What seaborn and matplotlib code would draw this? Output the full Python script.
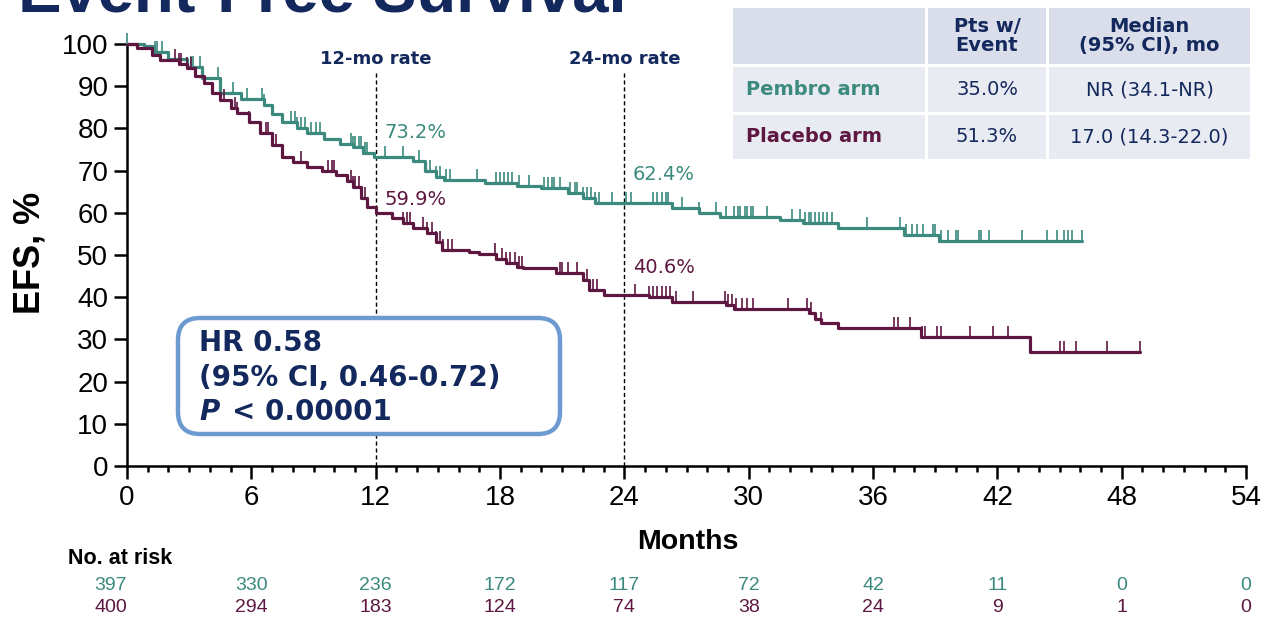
import numpy as np
import pandas as pd
import matplotlib
matplotlib.use("Agg")
import matplotlib.pyplot as plt
import seaborn as sns
from matplotlib.patches import FancyBboxPatch, Rectangle
from matplotlib.path import Path
from matplotlib.transforms import IdentityTransform, blended_transform_factory

# ---------------- data ----------------
arms = ["Pembro arm", "Placebo arm"]

pembro_t = [0, 0.8, 1.3, 2.0, 2.9, 3.6, 4.5, 5.5, 6.6, 7.0, 7.5, 8.2, 8.7, 9.5, 10.3,
            10.9, 11.4, 11.9, 13.8, 14.4, 14.9, 15.3, 17.3, 18.8, 20.0, 21.3, 22.0,
            22.6, 26.3, 27.6, 28.6, 31.5, 32.6, 34.3, 37.5, 39.2, 46.1]
pembro_s = [100, 99.5, 98.2, 96.5, 94.5, 92.0, 88.4, 87.0, 85.5, 83.5, 81.5, 80.0, 78.9,
            77.5, 76.3, 75.6, 74.2, 73.2, 72.3, 70.0, 68.5, 67.8, 67.1, 66.4, 65.9, 64.8,
            63.6, 62.4, 61.1, 60.0, 59.0, 58.3, 57.6, 56.4, 54.7, 53.2, 53.2]

placebo_t = [0, 0.5, 1.2, 1.6, 2.5, 2.9, 3.3, 3.7, 4.1, 4.5, 5.0, 5.3, 5.9, 6.4, 7.0, 7.5,
             8.0, 8.7, 9.4, 10.1, 10.6, 10.9, 11.3, 11.6, 12.0, 12.8, 13.3, 13.8, 14.5,
             14.9, 15.2, 16.5, 17.0, 17.8, 18.3, 18.8, 19.1, 20.7, 22.0, 22.3, 23.0, 25.2,
             26.3, 28.9, 29.3, 32.9, 33.2, 33.5, 34.3, 38.3, 43.6, 48.9]
placebo_s = [100, 99.0, 97.5, 96.2, 95.2, 94.3, 92.5, 90.8, 88.5, 86.7, 84.8, 83.6, 81.5,
             78.9, 76.0, 73.2, 72.0, 70.9, 69.8, 69.0, 67.5, 66.1, 63.5, 61.4, 59.9, 58.8,
             57.6, 56.5, 55.2, 53.0, 51.2, 50.6, 50.2, 49.0, 48.0, 47.2, 46.9, 45.7, 44.1,
             41.7, 40.6, 40.0, 38.9, 38.2, 37.2, 36.2, 34.8, 33.9, 32.7, 30.6, 27.0, 27.0]

pembro_censor = [0.0, 1.35, 1.45, 1.7, 3.1, 3.2, 3.5, 4.4, 5.1, 5.8, 6.5, 6.6, 7.9, 8.1, 8.2,
                 8.4, 8.6, 8.9, 9.1, 9.3, 10.8, 10.9, 11.0, 11.2, 11.3, 11.5, 11.6, 12.45,
                 13.3, 14.1, 14.4, 14.6, 14.9, 15.1, 15.4, 15.6, 16.9, 17.8, 18.0, 18.2,
                 18.4, 18.6, 18.9, 19.4, 20.1, 20.3, 20.5, 20.6, 20.9, 21.4, 21.6, 21.7,
                 22.0, 22.2, 22.4, 22.6, 22.8, 23.4, 24.1, 24.3, 25.4, 25.6, 25.8, 26.0,
                 26.1, 26.8, 27.6, 28.4, 28.9, 29.3, 29.5, 29.6, 29.8, 29.9, 30.1, 30.2,
                 30.9, 32.1, 32.5, 32.7, 32.9, 33.0, 33.2, 33.4, 33.6, 33.8, 34.0, 35.7,
                 37.3, 37.6, 37.9, 38.1, 38.4, 38.9, 39.0, 39.3, 39.6, 40.0, 40.1, 41.1,
                 41.2, 41.6, 43.2, 44.4, 44.9, 45.2, 45.4, 45.6, 46.1]
placebo_censor = [2.3, 2.5, 2.6, 2.9, 3.1, 4.7, 5.2, 5.3, 5.9, 6.7, 6.8, 7.0, 7.2, 7.5, 8.4,
                  9.7, 9.9, 10.0, 10.8, 10.9, 11.0, 11.2, 11.3, 11.5, 13.3, 13.5, 13.65,
                  14.3, 14.5, 14.7, 14.9, 15.1, 15.25, 15.5, 15.7, 17.75, 18.1, 18.3, 18.5,
                  18.7, 18.9, 19.05, 20.9, 21.0, 21.3, 21.7, 22.2, 22.5, 22.7, 24.5, 25.2,
                  25.4, 25.6, 25.8, 26.0, 26.2, 26.5, 27.3, 28.85, 29.0, 29.2, 29.4, 29.7,
                  29.9, 30.2, 31.9, 32.8, 33.0, 33.5, 37.0, 37.2, 37.8, 38.35, 38.5, 39.1,
                  39.3, 40.7, 41.8, 42.5, 45.0, 45.2, 45.8, 47.3, 48.9]

month_ticks = [0, 6, 12, 18, 24, 30, 36, 42, 48, 54]
risk_pembro = [397, 330, 236, 172, 117, 72, 42, 11, 0, 0]
risk_placebo = [400, 294, 183, 124, 74, 38, 24, 9, 1, 0]

rate_months = [12, 24]
rate_titles = ["12-mo rate", "24-mo rate"]
pembro_rates = [73.2, 62.4]
placebo_rates = [59.9, 40.6]

table_headers = ["", "Pts w/\nEvent", "Median\n(95% CI), mo"]
pts_with_event = ["35.0%", "51.3%"]
median_ci = ["NR (34.1-NR)", "17.0 (14.3-22.0)"]

hr_text = ["HR 0.58", "(95% CI, 0.46-0.72)", "< 0.00001"]

# ---------------- style ----------------
TEAL = "#3b8a7d"
MAROON = "#5d1741"
NAVY = "#13285c"
W, H = 1269, 620

sns.set_style("ticks")
plt.rcParams["font.family"] = ["Liberation Sans", "DejaVu Sans"]
plt.rcParams["text.color"] = "black"
WIDE = ["DejaVu Sans"]

fig = plt.figure(figsize=(W / 100, H / 100), dpi=100)
ax = fig.add_axes([127 / W, 1 - 466 / H, (1246 - 127) / W, (466 - 44) / H])


def fx(px):
    return px / W


def fy(py):
    return 1 - py / H


# curves
df = pd.concat([
    pd.DataFrame({"t": pembro_t, "s": pembro_s, "arm": arms[0]}),
    pd.DataFrame({"t": placebo_t, "s": placebo_s, "arm": arms[1]}),
])
sns.lineplot(data=df, x="t", y="s", hue="arm", palette=[TEAL, MAROON],
             estimator=None, sort=False, drawstyle="steps-post", legend=False,
             linewidth=2.3, ax=ax, clip_on=False, zorder=3)

tick_marker = Path([(0, 0), (0, 1)], [Path.MOVETO, Path.LINETO])


def surv_at(times, t_steps, s_steps):
    idx = np.searchsorted(np.asarray(t_steps), np.asarray(times), side="right") - 1
    return np.asarray(s_steps)[np.clip(idx, 0, len(s_steps) - 1)]


for cens, tt, ss, col in [(pembro_censor, pembro_t, pembro_s, TEAL),
                          (placebo_censor, placebo_t, placebo_s, MAROON)]:
    ax.plot(cens, surv_at(cens, tt, ss), linestyle="none", marker=tick_marker,
            markersize=16, markeredgewidth=1.2, color=col, clip_on=False, zorder=3)

tr = blended_transform_factory(ax.transData, fig.transFigure)

# reference lines
for m, title in zip(rate_months, rate_titles):
    ax.plot([m, m], [0, 93.4], color="black", linestyle=(0, (3, 2)), linewidth=1.0,
            zorder=1, clip_on=False)
    ax.text(m, fy(64), title, transform=tr, ha="center", va="baseline", fontsize=13,
            fontweight="bold", color=NAVY, family=WIDE)

# rate labels
for m, pr, qr, py1, py2 in zip(rate_months, pembro_rates, placebo_rates, [138, 180], [205, 273]):
    ax.text(m + 0.42, fy(py1), f"{pr:.1f}%", transform=tr, ha="left", va="baseline",
            fontsize=14, color=TEAL, family=WIDE)
    ax.text(m + 0.42, fy(py2), f"{qr:.1f}%", transform=tr, ha="left", va="baseline",
            fontsize=14, color=MAROON, family=WIDE)

# axes
ax.set_xlim(0, 54)
ax.set_ylim(0, 100)
ax.set_xticks(month_ticks)
ax.set_xticks(np.arange(0, 55, 1), minor=True)
ax.set_yticks(np.arange(0, 101, 10))
ax.tick_params(axis="both", which="major", labelsize=20, width=1.8, color="black",
               labelcolor="black", direction="out")
ax.tick_params(axis="x", which="major", length=9, pad=5)
ax.tick_params(axis="y", which="major", length=9.5, pad=4)
ax.tick_params(axis="x", which="minor", length=4.5, width=1.8, color="black")
for sp in ["top", "right"]:
    ax.spines[sp].set_visible(False)
for sp in ["left", "bottom"]:
    ax.spines[sp].set_linewidth(1.8)
    ax.spines[sp].set_color("black")
ax.set_xlabel("")
ax.set_ylabel("")
ax.set_facecolor("white")

fig.text(fx(30), fy(253), "EFS, %", rotation=90, ha="center", va="center",
         fontsize=26, fontweight="bold", color="black")
fig.text(fx(688), fy(542), "Months", ha="center", va="center", fontsize=20.5,
         fontweight="bold", color="black")

# number at risk
fig.text(fx(68), fy(559), "No. at risk", ha="left", va="center", fontsize=15.5,
         fontweight="bold", color="black")
for i, m in enumerate(month_ticks):
    ha = "right" if i == 0 else "center"
    ax.text(m, fy(585), str(risk_pembro[i]), transform=tr, ha=ha, va="center",
            fontsize=14, color=TEAL)
    ax.text(m, fy(607), str(risk_placebo[i]), transform=tr, ha=ha, va="center",
            fontsize=14, color=MAROON)

# HR box
box = FancyBboxPatch((178, H - 434), 382, 116,
                     boxstyle="round,pad=0,rounding_size=22",
                     transform=IdentityTransform(), facecolor="white",
                     edgecolor="#6d9bd1", linewidth=3.2, zorder=5, clip_on=False)
ax.add_patch(box)
for line, py in zip(hr_text[:2], [351, 386]):
    fig.text(fx(199), fy(py), line, ha="left", va="baseline", fontsize=20,
             fontweight="bold", color=NAVY, zorder=6, family=WIDE)
fig.text(fx(199), fy(420), "P", ha="left", va="baseline", fontsize=20,
         fontweight="bold", fontstyle="italic", color=NAVY, zorder=6, family=WIDE)
fig.text(fx(232), fy(420), hr_text[2], ha="left", va="baseline", fontsize=20,
         fontweight="bold", color=NAVY, zorder=6, family=WIDE)

# table
col_x = [(733, 925), (928, 1046), (1049, 1250)]
row_y = [(8, 64), (67, 112), (115, 159)]
row_bg = ["#dadeea", "#e9ebf2", "#e9ebf2"]
for r, (y0, y1) in enumerate(row_y):
    for (x0, x1) in col_x:
        fig.add_artist(Rectangle((fx(x0), fy(y1)), fx(x1 - x0), (y1 - y0) / H,
                                 transform=fig.transFigure, facecolor=row_bg[r],
                                 edgecolor="none", zorder=2))
for c in (1, 2):
    xc = (col_x[c][0] + col_x[c][1]) / 2
    fig.text(fx(xc), fy(36), table_headers[c], ha="center", va="center", fontsize=14,
             fontweight="bold", color=NAVY, linespacing=0.95, zorder=3, family=WIDE)
arm_colors = [TEAL, MAROON]
for r in range(2):
    yc = (row_y[r + 1][0] + row_y[r + 1][1]) / 2
    fig.text(fx(746), fy(yc), arms[r], ha="left", va="center", fontsize=14,
             fontweight="bold", color=arm_colors[r], zorder=3, family=WIDE)
    fig.text(fx((col_x[1][0] + col_x[1][1]) / 2), fy(yc), pts_with_event[r], ha="center",
             va="center", fontsize=14, color=NAVY, zorder=3, family=WIDE)
    fig.text(fx((col_x[2][0] + col_x[2][1]) / 2), fy(yc), median_ci[r], ha="center",
             va="center", fontsize=14, color=NAVY, zorder=3, family=WIDE)

# cut-off slide title (clipped at the top edge, as in the source slide)
fig.text(fx(18), fy(11), "Event-Free Survival", ha="left", va="baseline", fontsize=47,
         fontweight="bold", color=NAVY)

fig.savefig("out.png", dpi=100)
